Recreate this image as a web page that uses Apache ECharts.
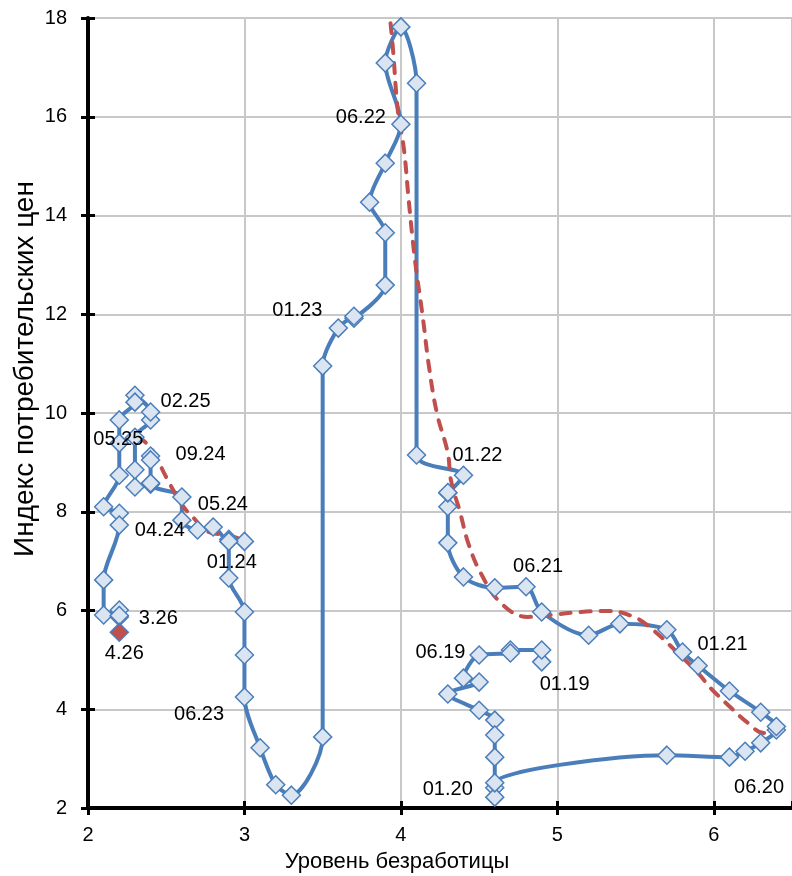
<!DOCTYPE html>
<html>
<head>
<meta charset="utf-8">
<script src="https://cdn.jsdelivr.net/npm/echarts@6/dist/echarts.min.js"></script>
<style>
html,body{margin:0;padding:0;background:#fff;}
#chart{width:792px;height:876px;}
</style>
</head>
<body>
<div id="chart"></div>
<script>
// Month of each observation (01.2019 – 04.2026)
const months = [
  "01.19","02.19","03.19","04.19","05.19","06.19","07.19","08.19","09.19","10.19","11.19","12.19",
  "01.20","02.20","03.20","04.20","05.20","06.20","07.20","08.20","09.20","10.20","11.20","12.20",
  "01.21","02.21","03.21","04.21","05.21","06.21","07.21","08.21","09.21","10.21","11.21","12.21",
  "01.22","02.22","03.22","04.22","05.22","06.22","07.22","08.22","09.22","10.22","11.22","12.22",
  "01.23","02.23","03.23","04.23","05.23","06.23","07.23","08.23","09.23","10.23","11.23","12.23",
  "01.24","02.24","03.24","04.24","05.24","06.24","07.24","08.24","09.24","10.24","11.24","12.24",
  "01.25","02.25","03.25","04.25","05.25","06.25","07.25","08.25","09.25","10.25","11.25","12.25",
  "01.26","02.26","03.26","04.26"
];
// Уровень безработицы, %
const unemployment = [
  4.9,4.9,4.7,4.7,4.5,4.4,4.5,4.3,4.5,4.6,4.6,4.6,
  4.6,4.6,4.6,5.7,6.1,6.2,6.3,6.4,6.4,6.3,6.1,5.9,
  5.8,5.7,5.4,5.2,4.9,4.8,4.6,4.4,4.3,4.3,4.3,4.3,
  4.4,4.1,4.1,4.0,3.9,4.0,3.9,3.8,3.9,3.9,3.7,3.7,
  3.6,3.5,3.5,3.3,3.2,3.1,3.0,3.0,3.0,2.9,2.9,3.0,
  2.9,2.8,2.7,2.6,2.6,2.4,2.4,2.4,2.4,2.3,2.3,2.3,
  2.4,2.4,2.3,2.3,2.2,2.2,2.2,2.1,2.2,2.2,2.1,2.1,
  2.2,2.2,2.2,2.2
];
// Индекс потребительских цен, % г/г
const cpi = [
  4.96,5.20,5.20,5.14,5.10,4.63,4.55,4.31,3.98,3.78,3.48,3.03,
  2.41,2.22,2.51,3.07,3.03,3.15,3.32,3.58,3.65,3.94,4.37,4.88,
  5.16,5.61,5.73,5.50,5.97,6.48,6.46,6.68,7.37,8.10,8.38,8.39,
  8.74,9.15,16.68,17.82,17.09,15.85,15.06,14.27,13.65,12.59,11.92,11.96,
  11.72,10.95,3.44,2.26,2.47,3.22,4.25,5.10,5.97,6.66,7.44,7.40,
  7.40,7.69,7.63,7.83,8.30,8.56,9.13,9.05,8.58,8.50,8.85,9.51,
  9.86,10.02,10.36,10.22,9.86,9.39,8.74,8.10,7.97,7.73,6.62,5.91,
  6.01,5.87,5.90,5.56
];
// Red dashed trend, part 1 (2020–2022 path)
const trend1X = [3.92,3.93,3.95,3.98,4.02,4.05,4.09,4.14,4.18,4.23,4.30,4.32,4.38,4.43,4.51,4.64,4.81,4.96,5.15,5.32,5.49,5.61,5.77,5.90,5.98,6.11,6.22,6.32,6.43];
const trend1Y = [18.3,18.02,17.35,16.14,15.33,14.31,13.10,11.94,10.93,10.00,9.19,8.64,7.97,7.37,6.76,6.15,5.87,5.91,5.97,5.99,5.87,5.61,5.14,4.73,4.43,4.03,3.72,3.52,3.54];
// Red dashed trend, part 2 (2024–2025 cluster)
const trend2X = [2.20,2.30,2.40,2.45,2.51,2.57,2.61,2.67,2.77,2.89,2.97];
const trend2Y = [9.39,9.52,9.29,9.01,8.64,8.30,8.10,7.89,7.59,7.53,7.45];
// Labelled months and the text shown
const labelledMonths = ["01.19","06.19","01.20","06.20","01.21","06.21","01.22","06.22","01.23","06.23","01.24","04.24","05.24","09.24","02.25","05.25","03.26","04.26"];
const labelTexts     = ["01.19","06.19","01.20","06.20","01.21","06.21","01.22","06.22","01.23","06.23","01.24","04.24","05.24","09.24","02.25","05.25","3.26","4.26"];
const highlightMonth = "04.26";
const xTicks = [2,3,4,5,6];
const yTicks = [2,4,6,8,10,12,14,16,18];

// label offsets (layout, px from the marker centre)
const labelOffsets = {
  "01.19":[23,23],"06.19":[-23,-26],"01.20":[-47,2],"06.20":[14,36],"01.21":[40,-7],
  "06.21":[12,-20],"01.22":[14,-20],"06.22":[-40,-7],"01.23":[-41,-18],"06.23":[-61,-33],
  "01.24":[3,21],"04.24":[-22,10],"05.24":[41,8],"09.24":[50,-29],"02.25":[35,-11],
  "05.25":[-1,20],"03.26":[39,3],"04.26":[5,21]
};

const FONT = "'Liberation Sans', Arial, sans-serif";
const BLUE = '#4a7ebb';
const RED = '#c0504d';

const pathData = months.map((m,i)=>[unemployment[i], cpi[i]]);
const markerData = months.map((m,i)=>{
  const item = {value:[unemployment[i], cpi[i]], name:m};
  const li = labelledMonths.indexOf(m);
  if (li >= 0) {
    item.label = {show:true, formatter: labelTexts[li], position:'inside', offset: labelOffsets[m]};
  }
  if (m === highlightMonth) {
    item.itemStyle = {color: RED, borderColor: BLUE};
  }
  return item;
});
const trend1 = trend1X.map((x,i)=>[x, trend1Y[i]]);
const trend2 = trend2X.map((x,i)=>[x, trend2Y[i]]);

const chart = echarts.init(document.getElementById('chart'), null, {renderer:'canvas'});
const xMin = xTicks[0], yMin = yTicks[0], yMax = yTicks[yTicks.length-1];
const option = {
  animation:false,
  backgroundColor:'#fff',
  textStyle:{fontFamily:FONT},
  grid:{left:88, right:0, top:18, bottom:68, containLabel:false},
  xAxis:[{
    type:'value', min:xMin, max:6.5, interval:1, position:'bottom',
    axisLine:{show:true, onZero:false, lineStyle:{color:'#000', width:4}},
    axisTick:{show:true, inside:false, length:7, lineStyle:{color:'#000', width:3}},
    axisLabel:{show:true, margin:17, color:'#000', fontSize:20, fontFamily:FONT, showMaxLabel:false},
    splitLine:{show:true, lineStyle:{color:'#c8c8c8', width:2}}
  },{
    type:'value', min:xMin, max:6.5, interval:1, position:'bottom',
    axisLine:{show:false}, axisLabel:{show:false}, splitLine:{show:false},
    axisTick:{show:true, inside:true, length:7, lineStyle:{color:'#000', width:3}}
  }],
  yAxis:[{
    type:'value', min:yMin, max:yMax, interval:2, position:'left',
    axisLine:{show:true, onZero:false, lineStyle:{color:'#000', width:4}},
    axisTick:{show:true, inside:false, length:7, lineStyle:{color:'#000', width:3}},
    axisLabel:{show:true, margin:21, color:'#000', fontSize:20, fontFamily:FONT},
    splitLine:{show:true, lineStyle:{color:'#c8c8c8', width:2}}
  },{
    type:'value', min:yMin, max:yMax, interval:2, position:'left',
    axisLine:{show:false}, axisLabel:{show:false}, splitLine:{show:false},
    axisTick:{show:true, inside:true, length:7, lineStyle:{color:'#000', width:3}}
  }],
  graphic:[
    {type:'text', x:397, y:862, z:10,
     style:{text:'Уровень безработицы', font:'22px '+FONT, fill:'#000', align:'center', verticalAlign:'middle'}},
    {type:'text', x:25, y:369, rotation:Math.PI/2, z:10,
     style:{text:'Индекс потребительских цен', font:'28px '+FONT, fill:'#000', align:'center', verticalAlign:'middle'}}
  ],
  series:[
    {
      type:'line', name:'path', xAxisIndex:0, yAxisIndex:0, data:pathData,
      smooth:0.3, showSymbol:false, symbol:'none', z:2,
      lineStyle:{color:BLUE, width:4}
    },
    {
      type:'line', name:'trend1', xAxisIndex:0, yAxisIndex:0, data:trend1,
      smooth:0.4, showSymbol:false, symbol:'none', z:3, clip:true,
      lineStyle:{color:RED, width:4, type:[10,10], cap:'round'}
    },
    {
      type:'line', name:'trend2', xAxisIndex:0, yAxisIndex:0, data:trend2,
      smooth:0.4, showSymbol:false, symbol:'none', z:3,
      lineStyle:{color:RED, width:4, type:[10,10], cap:'round'}
    },
    {
      type:'scatter', name:'months', xAxisIndex:0, yAxisIndex:0, data:markerData,
      symbol:'diamond', symbolSize:18, z:4,
      itemStyle:{color:'#dbe5f1', borderColor:BLUE, borderWidth:1.5, opacity:1},
      label:{show:false, color:'#000', fontSize:20, fontFamily:FONT},
      emphasis:{disabled:true}
    }
  ]
};
chart.setOption(option);
</script>
</body>
</html>
